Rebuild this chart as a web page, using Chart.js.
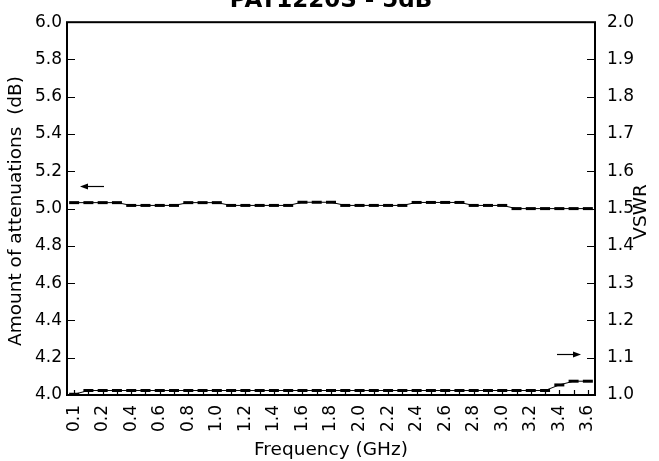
<!DOCTYPE html>
<html>
<head>
<meta charset="utf-8">
<script src="https://cdn.jsdelivr.net/npm/chart.js@4.4.1/dist/chart.umd.min.js"></script>
<style>
  html, body { margin: 0; padding: 0; background: #fff; }
  #wrap { width: 659px; height: 461px; }
</style>
</head>
<body>
<div id="wrap"><canvas id="chart" width="659" height="461"></canvas></div>
<script>
// categories (tick labels, blank = minor tick)
var freqLabels = ['0.1', '', '0.2', '', '0.4', '', '0.6', '', '0.8', '', '1.0', '', '1.2', '',
  '1.4', '', '1.6', '', '1.8', '', '2.0', '', '2.2', '', '2.4', '', '2.6', '', '2.8', '',
  '3.0', '', '3.2', '', '3.4', '', '3.6'];

// attenuation (dB), left axis
var attenuation = [5.032, 5.032, 5.032, 5.032, 5.017, 5.017, 5.017, 5.017, 5.032, 5.032,
  5.032, 5.017, 5.017, 5.017, 5.017, 5.017, 5.034, 5.034, 5.034, 5.017, 5.017, 5.017, 5.017,
  5.017, 5.033, 5.033, 5.033, 5.033, 5.017, 5.017, 5.017, 5.000, 5.000, 5.000, 5.000, 5.000,
  5.000];

// VSWR, right axis
var vswr = [1.002, 1.012, 1.012, 1.012, 1.012, 1.012, 1.012, 1.012, 1.012, 1.012, 1.012,
  1.012, 1.012, 1.012, 1.012, 1.012, 1.012, 1.012, 1.012, 1.012, 1.012, 1.012, 1.012, 1.012,
  1.012, 1.012, 1.012, 1.012, 1.012, 1.012, 1.012, 1.012, 1.012, 1.012, 1.027, 1.037, 1.037];

var FONT = '"DejaVu Sans", sans-serif';

// frame, inward ticks, arrows and titles
var decor = {
  id: 'decor',
  afterDraw: function (chart) {
    var ctx = chart.ctx, a = chart.chartArea;
    var xs = chart.scales.x, yl = chart.scales.y, yr = chart.scales.y2;
    ctx.save();
    ctx.strokeStyle = '#000';
    ctx.fillStyle = '#000';

    // inner ticks
    ctx.lineWidth = 1.2;
    ctx.beginPath();
    for (var i = 0; i < freqLabels.length; i++) {
      var px = Math.round(xs.getPixelForTick(i)) + 0.5;
      ctx.moveTo(px, a.bottom);
      ctx.lineTo(px, a.bottom - 5);
    }
    yl.ticks.forEach(function (t) {
      var py = Math.round(yl.getPixelForValue(t.value)) + 0.5;
      ctx.moveTo(a.left, py);
      ctx.lineTo(a.left + 8, py);
    });
    yr.ticks.forEach(function (t) {
      var py = Math.round(yr.getPixelForValue(t.value)) + 0.5;
      ctx.moveTo(a.right, py);
      ctx.lineTo(a.right - 8, py);
    });
    ctx.stroke();

    // frame
    ctx.lineWidth = 2;
    ctx.strokeRect(a.left, a.top, a.right - a.left, a.bottom - a.top);

    // arrows pointing to the axis of each curve
    function arrow(x1, y, x2) {
      var dir = x2 > x1 ? 1 : -1;
      ctx.lineWidth = 1.2;
      ctx.beginPath();
      ctx.moveTo(x1, y);
      ctx.lineTo(x2 - dir * 6, y);
      ctx.stroke();
      ctx.beginPath();
      ctx.moveTo(x2, y);
      ctx.lineTo(x2 - dir * 8, y - 3);
      ctx.lineTo(x2 - dir * 8, y + 3);
      ctx.closePath();
      ctx.fill();
    }
    arrow(104, 186.5, 80);
    arrow(557, 354.5, 581);

    // titles
    ctx.textAlign = 'center';
    ctx.textBaseline = 'alphabetic';
    ctx.font = 'bold 23px ' + FONT;
    ctx.fillText('PAT1220S - 5dB', 331, 7);

    ctx.textBaseline = 'middle';
    ctx.font = '18.5px ' + FONT;
    ctx.fillText('Frequency (GHz)', 331, 450);

    ctx.save();
    ctx.translate(16, 211);
    ctx.rotate(-Math.PI / 2);
    ctx.fillText('Amount of attenuations  (dB)', 0, 0);
    ctx.restore();

    ctx.save();
    ctx.translate(641, 212);
    ctx.rotate(-Math.PI / 2);
    ctx.fillText('VSWR', 0, 0);
    ctx.restore();

    ctx.restore();
  }
};

var tickFont = { family: FONT, size: 17 };

new Chart(document.getElementById('chart'), {
  type: 'line',
  data: {
    labels: freqLabels,
    datasets: [
      {
        label: 'Attenuation',
        data: attenuation,
        yAxisID: 'y',
        borderColor: '#000',
        borderWidth: 1,
        pointStyle: 'line',
        pointRadius: 5,
        pointBorderWidth: 3,
        pointBorderColor: '#000',
        tension: 0,
        clip: false
      },
      {
        label: 'VSWR',
        data: vswr,
        yAxisID: 'y2',
        borderColor: '#000',
        borderWidth: 1,
        pointStyle: 'line',
        pointRadius: 5,
        pointBorderWidth: 3,
        pointBorderColor: '#000',
        tension: 0,
        clip: false
      }
    ]
  },
  options: {
    responsive: false,
    animation: false,
    events: [],
    layout: { padding: { top: 20, left: 0, right: 0, bottom: 0 } },
    plugins: { legend: { display: false }, tooltip: { enabled: false }, title: { display: false } },
    scales: {
      x: {
        type: 'category',
        offset: true,
        grid: { display: false, drawTicks: false },
        border: { display: false },
        ticks: {
          autoSkip: false, maxRotation: 90, minRotation: 90,
          padding: 10, color: '#000', font: tickFont
        },
        afterFit: function (s) { s.height = 66; }
      },
      y: {
        position: 'left',
        min: 4.0, max: 6.0,
        grid: { display: false, drawTicks: false },
        border: { display: false },
        ticks: {
          stepSize: 0.2, padding: 5, color: '#000', font: tickFont,
          callback: function (v) { return v.toFixed(1); }
        },
        afterFit: function (s) { s.width = 67; }
      },
      y2: {
        position: 'right',
        min: 1.0, max: 2.0,
        grid: { display: false, drawTicks: false },
        border: { display: false },
        ticks: {
          stepSize: 0.1, padding: 12, color: '#000', font: tickFont,
          callback: function (v) { return v.toFixed(1); }
        },
        afterFit: function (s) { s.width = 64; }
      }
    }
  },
  plugins: [decor]
});
</script>
</body>
</html>
